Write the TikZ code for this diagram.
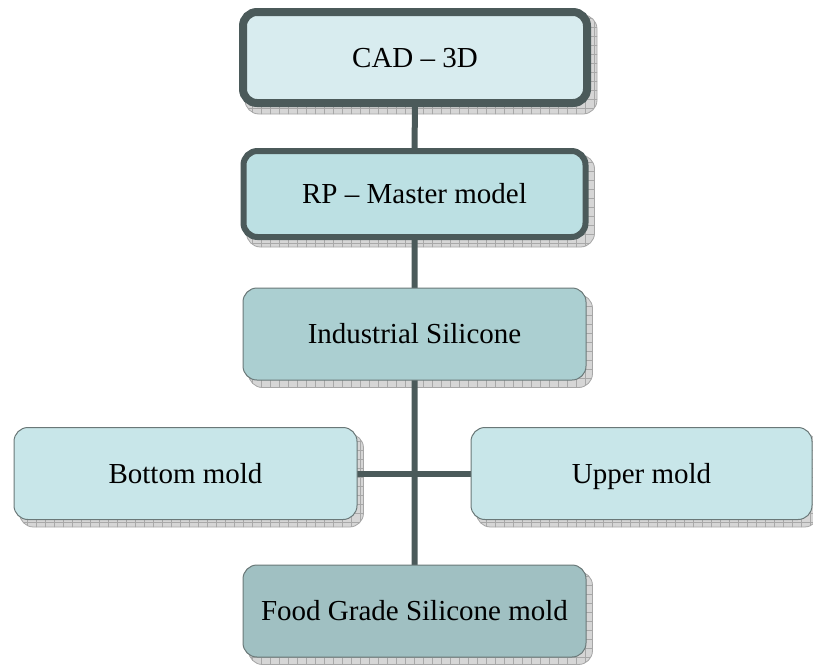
\documentclass[tikz,border=0pt]{standalone}
\usepackage{fontspec}
\setmainfont{Liberation Serif}
\usetikzlibrary{backgrounds}

\definecolor{edge}{HTML}{4B5A5A}
\definecolor{thinedge}{HTML}{6A7878}
\definecolor{fillA}{HTML}{D8ECEF}
\definecolor{fillB}{HTML}{BCE0E3}
\definecolor{fillC}{HTML}{ABCFD1}
\definecolor{fillD}{HTML}{C8E6E9}
\definecolor{fillE}{HTML}{A0C0C2}

\tikzset{
  x=1pt, y=-1pt,
  stagebox/.style={rounded corners=14pt, minimum width=343pt, minimum height=92pt,
    inner sep=0pt, align=center, text height=22pt, text depth=3pt,
    font=\fontsize{29}{34}\selectfont, text=black},
  thickframe/.style={stagebox, draw=edge, line width=8pt},
  midframe/.style={stagebox, draw=edge, line width=6pt},
  thinframe/.style={stagebox, draw=thinedge, line width=1pt},
  shadowbox/.style={rounded corners=14pt, fill=gray!32, draw=gray!70, line width=0.8pt,
    path picture={\draw[gray!68, line width=0.7pt]
      ([shift={(-20pt,-20pt)}]path picture bounding box.south west) grid[step=9pt]
      ([shift={(20pt,20pt)}]path picture bounding box.north east);}},
  link/.style={draw=edge, line width=6pt}
}

\begin{document}
\begin{tikzpicture}
\useasboundingbox (0,0) rectangle (813,664);

% process stages
\node[thickframe, fill=fillA, minimum width=344pt, minimum height=91pt] (cad) at (415,57.5) {CAD -- 3D};
\node[midframe, fill=fillB, minimum width=342pt, minimum height=86pt] (rp) at (414.5,194) {RP -- Master model};
\node[thinframe, fill=fillC] (ind) at (414.5,334) {Industrial Silicone};
\node[thinframe, fill=fillD] (bot) at (185.5,473.5) {Bottom mold};
\node[thinframe, fill=fillD, minimum width=341pt] (up) at (641.5,473.5) {Upper mold};
\node[thinframe, fill=fillE] (food) at (414.5,611) {Food Grade Silicone mold};

\begin{scope}[on background layer]
  % drop shadows behind every stage
  \foreach \n in {cad,rp,ind,bot,up,food}{
    \path[shadowbox] ([shift={(6,7)}]\n.north west) rectangle ([shift={(6,7)}]\n.south east);
  }
  % connectors
  \draw[link] (cad.center) -- (rp.center) -- (ind.center) -- (food.center);
  \draw[link] (bot.center) -- (up.center);
\end{scope}
\end{tikzpicture}
\end{document}
